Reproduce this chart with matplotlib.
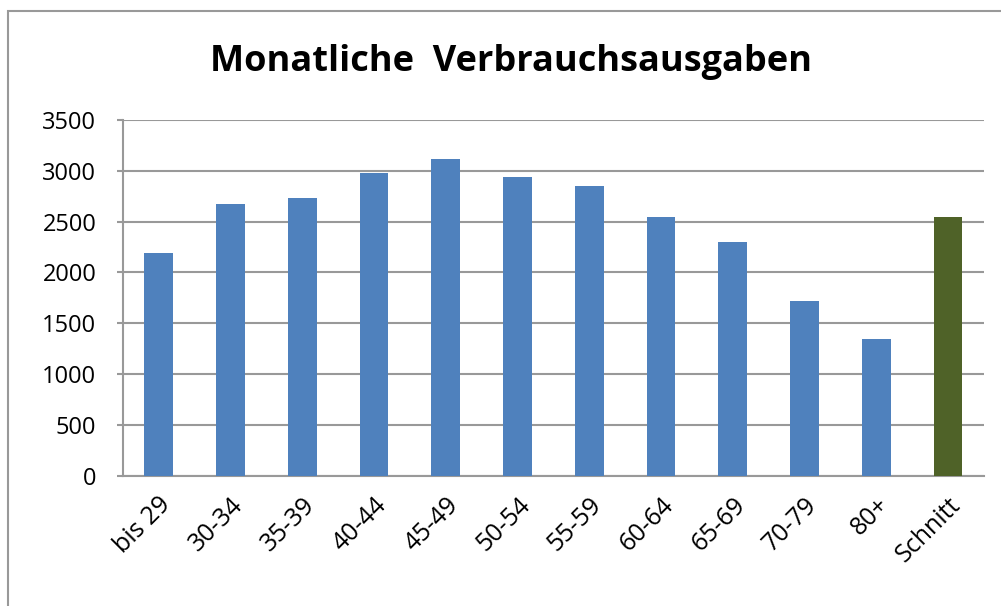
import matplotlib.pyplot as plt
from matplotlib.patches import Rectangle

# monthly consumer spending by age group of the household head
groups = ['bis 29', '30-34', '35-39', '40-44', '45-49', '50-54', '55-59',
          '60-64', '65-69', '70-79', '80+', 'Schnitt']
ausgaben = [2195, 2670, 2730, 2980, 3120, 2940, 2850, 2545, 2300, 1720, 1350, 2550]
farben = ['#4F81BD'] * 11 + ['#4F6228']

plt.rcParams['font.family'] = ['Open Sans', 'DejaVu Sans']

fig = plt.figure(figsize=(10.01, 6.06), dpi=100)
ax = fig.add_axes([0.1226, 0.215, 0.983 - 0.1226, 0.802 - 0.215])

x = range(len(groups))
ax.bar(x, ausgaben, width=0.4, color=farben, zorder=3)

ax.set_ylim(0, 3500)
ax.set_xlim(-0.5, len(groups) - 0.5)
ax.set_yticks(range(0, 3501, 500))
ax.yaxis.grid(True, color='#999999', linewidth=1.5, zorder=0)
ax.tick_params(axis='y', labelsize=17, length=4, width=1.5, color='#999999', pad=15)
ax.tick_params(axis='x', length=0, pad=12)

ax.set_xticks(list(x))
ax.set_xticklabels(groups, rotation=45, ha='right', va='top',
                   rotation_mode='anchor', fontsize=18)

for side in ['top', 'right']:
    ax.spines[side].set_visible(False)
for side in ['left', 'bottom']:
    ax.spines[side].set_color('#999999')
    ax.spines[side].set_linewidth(1.5)

fig.text(0.51, 0.898, 'Monatliche  Verbrauchsausgaben', ha='center', va='center',
         fontsize=26, fontweight='bold')

# chart frame
fig.patches.append(Rectangle((8 / 1001, -0.1), 1.1, 1.1 - 11 / 606,
                             transform=fig.transFigure, fill=False,
                             edgecolor='#999999', linewidth=1.5))

fig.savefig('out.png', dpi=100)
